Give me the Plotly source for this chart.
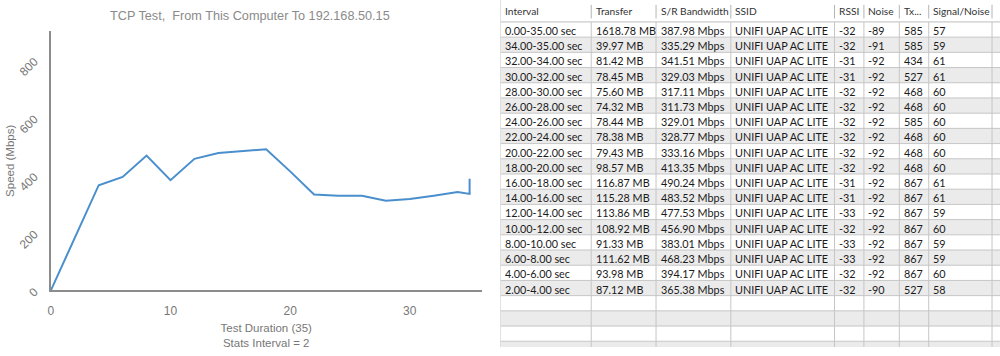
import plotly.graph_objects as go

# ---- data ----
intervals = ["0.00-35.00 sec", "34.00-35.00 sec", "32.00-34.00 sec", "30.00-32.00 sec",
             "28.00-30.00 sec", "26.00-28.00 sec", "24.00-26.00 sec", "22.00-24.00 sec",
             "20.00-22.00 sec", "18.00-20.00 sec", "16.00-18.00 sec", "14.00-16.00 sec",
             "12.00-14.00 sec", "10.00-12.00 sec", "8.00-10.00 sec", "6.00-8.00 sec",
             "4.00-6.00 sec", "2.00-4.00 sec"]
transfer = ["1618.78 MB", "39.97 MB", "81.42 MB", "78.45 MB", "75.60 MB", "74.32 MB",
            "78.44 MB", "78.38 MB", "79.43 MB", "98.57 MB", "116.87 MB", "115.28 MB",
            "113.86 MB", "108.92 MB", "91.33 MB", "111.62 MB", "93.98 MB", "87.12 MB"]
bandwidth = [387.98, 335.29, 341.51, 329.03, 317.11, 311.73, 329.01, 328.77, 333.16,
             413.35, 490.24, 483.52, 477.53, 456.90, 383.01, 468.23, 394.17, 365.38]
ssid = ["UNIFI UAP AC LITE"] * 18
rssi = [-32, -32, -31, -31, -32, -32, -32, -32, -32, -32, -31, -31, -33, -32, -33, -33, -32, -32]
noise = [-89, -91, -92, -92, -92, -92, -92, -92, -92, -92, -92, -92, -92, -92, -92, -92, -92, -90]
tx = [585, 585, 434, 527, 468, 468, 585, 468, 468, 468, 867, 867, 867, 867, 867, 867, 867, 527]
snr = [57, 59, 61, 61, 60, 60, 60, 60, 60, 60, 61, 61, 59, 60, 59, 59, 60, 58]
headers = ["Interval", "Transfer", "S/R Bandwidth", "SSID", "RSSI", "Noise", "Tx...", "Signal/Noise", ""]
x_ticks = [0, 10, 20, 30]
y_ticks = [0, 200, 400, 600, 800]

# ---- table layout (style) ----
col_widths = [91, 65, 75, 104, 29.5, 35.5, 29.5, 63.5, 8]
table_left = 499
header_h = 22.5
row_h = 15.6
n_rows_total = 22
grid_color = "#c6c6c6"
stripe_color = "#ebebeb"
body_font = dict(family="Lato, Liberation Sans, Arial", size=10.8, color="#1a1a1a")
head_font = dict(family="Lato, Liberation Sans, Arial", size=10.2, color="#333333")

# chart series: start at 0, interval ends ascending, then overall average at the end
ends = [float(s.split("-")[1].split()[0]) for s in intervals]
chart_x = [0] + ends[1:][::-1] + [ends[0]]
chart_y = [0] + bandwidth[1:][::-1] + [bandwidth[0]]

fig = go.Figure()
fig.add_trace(go.Scatter(x=chart_x, y=chart_y, mode="lines",
                         line=dict(color="#4a8fcd", width=2), showlegend=False,
                         hoverinfo="skip", xaxis="x", yaxis="y"))

# ---- table drawn on its own pixel-unit axes (x2 / y2) ----
col_lefts = [table_left]
for w in col_widths:
    col_lefts.append(col_lefts[-1] + w)
table_right = 1000

bw_txt = [f"{v:.2f} Mbps" for v in bandwidth]
columns = [intervals, transfer, bw_txt, ssid, [str(v) for v in rssi],
           [str(v) for v in noise], [str(v) for v in tx], [str(v) for v in snr]]

shapes = []
annotations = []
row_tops = [header_h + i * row_h for i in range(n_rows_total)]
for i, top in enumerate(row_tops):
    if i % 2 == 1:
        shapes.append(dict(type="rect", xref="x2", yref="y2", x0=table_left, x1=table_right,
                           y0=top, y1=top + row_h, fillcolor=stripe_color, line_width=0,
                           layer="below"))
for i, top in enumerate(row_tops):
    shapes.append(dict(type="line", xref="x2", yref="y2", x0=table_left, x1=table_right,
                       y0=top + row_h, y1=top + row_h, line=dict(color=grid_color, width=1)))
# header bottom line
shapes.append(dict(type="line", xref="x2", yref="y2", x0=table_left, x1=table_right,
                   y0=header_h, y1=header_h, line=dict(color="#bdbdbd", width=1)))
# left border
shapes.append(dict(type="line", xref="x2", yref="y2", x0=table_left, x1=table_left,
                   y0=0, y1=356, line=dict(color=grid_color, width=1)))
# column separators (short in header, full in body)
for xl in col_lefts[1:-1]:
    shapes.append(dict(type="line", xref="x2", yref="y2", x0=xl, x1=xl,
                       y0=header_h, y1=356, line=dict(color=grid_color, width=1)))
    shapes.append(dict(type="line", xref="x2", yref="y2", x0=xl, x1=xl,
                       y0=5, y1=19, line=dict(color="#b5b5b5", width=1)))

for c, h in enumerate(headers):
    if h:
        annotations.append(dict(text=h, xref="x2", yref="y2", x=col_lefts[c] + 2.5,
                                y=header_h / 2 + 0.5, xanchor="left", yanchor="middle",
                                showarrow=False, font=head_font))
for c, vals in enumerate(columns):
    for r, v in enumerate(vals):
        annotations.append(dict(text=v, xref="x2", yref="y2", x=col_lefts[c] + 2.5,
                                y=row_tops[r] + row_h / 2 + 1, xanchor="left",
                                yanchor="middle", showarrow=False, font=body_font))

# invisible anchor trace so the table axes exist
fig.add_trace(go.Scatter(x=[table_left, table_right], y=[0, 356], mode="markers",
                         marker=dict(opacity=0), showlegend=False, hoverinfo="skip",
                         xaxis="x2", yaxis="y2"))

annotations.append(dict(text="TCP Test, \u00a0From This Computer To 192.168.50.15",
                        x=0.248, y=1 - 16 / 356, xref="paper", yref="paper",
                        xanchor="center", yanchor="middle", showarrow=False,
                        font=dict(size=12.7, color="#8a8a8a")))

fig.update_layout(
    width=1000, height=356,
    margin=dict(l=0, r=0, t=0, b=0),
    paper_bgcolor="white", plot_bgcolor="rgba(0,0,0,0)",
    font=dict(family="Liberation Sans, Arial", color="#777777"),
    xaxis=dict(domain=[0.048, 0.480], range=[0, 36], tickvals=x_ticks,
               showgrid=False, zeroline=False, showline=True, linecolor="#8c8c8c",
               linewidth=2, ticks="", ticklabelstandoff=8,
               tickfont=dict(size=12, color="#777777"),
               title=dict(text="Test Duration (35)<br>Stats Interval = 2",
                          font=dict(size=11.5, color="#777777"), standoff=7)),
    yaxis=dict(domain=[0.163, 0.910], range=[0, 900], tickvals=y_ticks,
               showgrid=False, zeroline=False, showline=True, linecolor="#8c8c8c",
               linewidth=2, ticks="", tickangle=-45, ticklabelstandoff=12,
               tickfont=dict(size=12, color="#777777"),
               title=dict(text="Speed (Mbps)", font=dict(size=11.5, color="#777777"),
                          standoff=0)),
    xaxis2=dict(domain=[table_left / 1000, 1.0], range=[table_left, table_right],
                visible=False, fixedrange=True),
    yaxis2=dict(domain=[0, 1], range=[356, 0], visible=False, fixedrange=True,
                anchor="x2"),
    shapes=shapes,
    annotations=annotations,
)

fig.write_html("out.html", config={"displayModeBar": False},
               post_script="document.body.style.margin='0px';")
